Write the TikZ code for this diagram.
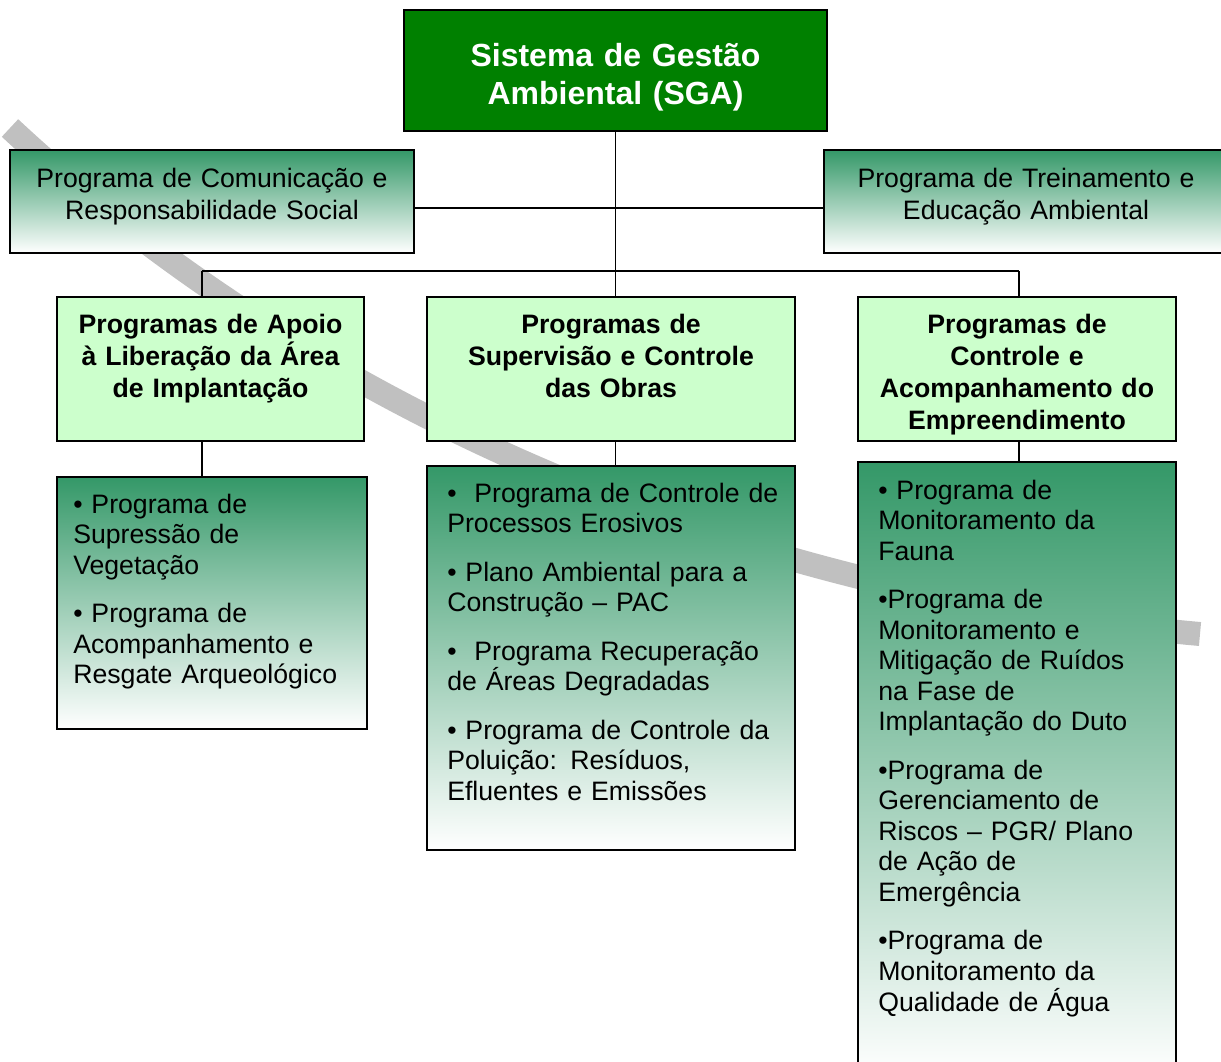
\documentclass[tikz,border=0pt]{standalone}
\usepackage{fontspec}
\setmainfont{Liberation Sans}
\definecolor{verdeSGA}{RGB}{0,128,0}
\definecolor{verdeClaro}{RGB}{204,255,204}
\definecolor{verdeMar}{RGB}{52,152,104}
\definecolor{faixaCinza}{RGB}{192,192,192}

\begin{document}
\begin{tikzpicture}[x=0.75pt,y=-0.75pt,
  caixa/.style 2 args={draw, line width=1.6pt, anchor=north west, inner sep=0pt, outer sep=0pt,
    minimum width=#1*0.75pt, minimum height=#2*0.75pt},
  principal/.style={fill=verdeSGA},
  cabecalho/.style={fill=verdeClaro},
  degrade/.style={top color=verdeMar, bottom color=white},
  conector/.style={line width=1.4pt},
  titulo/.style={text=white, font=\fontsize{24}{28.5}\selectfont\bfseries, align=center,
    text width=300pt, inner sep=0pt, anchor=base},
  rotulo/.style={font=\fontsize{20}{24}\selectfont, align=center, text width=300pt,
    inner sep=0pt, anchor=base},
  rotulonegrito/.style={rotulo, font=\fontsize{20}{24}\selectfont\bfseries},
  lista/.style={font=\fontsize{20}{22.9}\selectfont, align=left, text width=#1,
    inner sep=0pt, anchor=base west}]
\useasboundingbox (0,0) rectangle (1221,1061);
% Background band
\draw[faixaCinza, line width=18pt] (10,128) .. controls (250,352) and (650,585) .. (1200,634);
% Boxes
\node[caixa={423}{121}, principal] (sga) at (404,10) {};
\node[caixa={404}{103}, degrade] (com) at (10,150) {};
\node[caixa={404}{103}, degrade] (tre) at (824,150) {};
\node[caixa={307}{144}, cabecalho] (apoio) at (57,297) {};
\node[caixa={368}{144}, cabecalho] (sup) at (427,297) {};
\node[caixa={318}{144}, cabecalho] (acomp) at (858,297) {};
\node[caixa={310}{252}, degrade] (listaA) at (57,477) {};
\node[caixa={368}{384}, degrade] (listaB) at (427,466) {};
\node[caixa={318}{615}, degrade] (listaC) at (858,462) {};
% Connectors
\coordinate (eixo) at (616,208);
\coordinate (ramoA) at (202,271);
\coordinate (ramoC) at (1019,271);
\draw[conector] (sga.south) -- (sga.south |- sup.north);
\draw[conector] (com.east |- eixo) -- (tre.west |- eixo);
\draw[conector] (ramoA) -- (ramoC);
\draw[conector] (ramoA) -- (ramoA |- apoio.north);
\draw[conector] (ramoC) -- (ramoC |- acomp.north);
\draw[conector] (ramoA |- apoio.south) -- (ramoA |- listaA.north);
\draw[conector] (sup.south -| sga.south) -- (listaB.north -| sga.south);
\draw[conector] (ramoC |- acomp.south) -- (ramoC |- listaC.north);
% Labels
\node[titulo] (tsga) at (615.5,66) {Sistema de Gestão\\Ambiental (SGA)};
\node[rotulo] (tcom) at (212,187) {Programa de Comunicação e\\Responsabilidade Social};
\node[rotulo] (ttre) at (1026,187) {Programa de Treinamento e\\Educação Ambiental};
\node[rotulonegrito] (tapoio) at (210.5,333) {Programas de Apoio\\à Liberação da Área\\de Implantação};
\node[rotulonegrito] (tsup) at (611,333) {Programas de\\Supervisão e Controle\\das Obras};
\node[rotulonegrito] (tacomp) at (1017,333) {Programas de\\Controle e\\Acompanhamento do\\Empreendimento};
% Lists
\node[lista=225pt] (tlistaA) at (73,513) {• Programa de\\Supressão de\\Vegetação\\[13.5pt]%
• Programa de\\Acompanhamento e\\Resgate Arqueológico};
\node[lista=262pt] (tlistaB) at (447,502) {•\ \ Programa de Controle de\\Processos Erosivos\\[13.5pt]%
• Plano Ambiental para a\\Construção – PAC\\[13.5pt]%
•\ \ Programa Recuperação\\de Áreas Degradadas\\[13.5pt]%
• Programa de Controle da\\Poluição: Resíduos,\\Efluentes e Emissões};
\node[lista=228pt] (tlistaC) at (878,499) {• Programa de\\Monitoramento da\\Fauna\\[13.5pt]%
•Programa de\\Monitoramento e\\Mitigação de Ruídos\\na Fase de\\Implantação do Duto\\[13.5pt]%
•Programa de\\Gerenciamento de\\Riscos – PGR/ Plano\\de Ação de\\Emergência\\[13.5pt]%
•Programa de\\Monitoramento da\\Qualidade de Água};
\end{tikzpicture}
\end{document}
